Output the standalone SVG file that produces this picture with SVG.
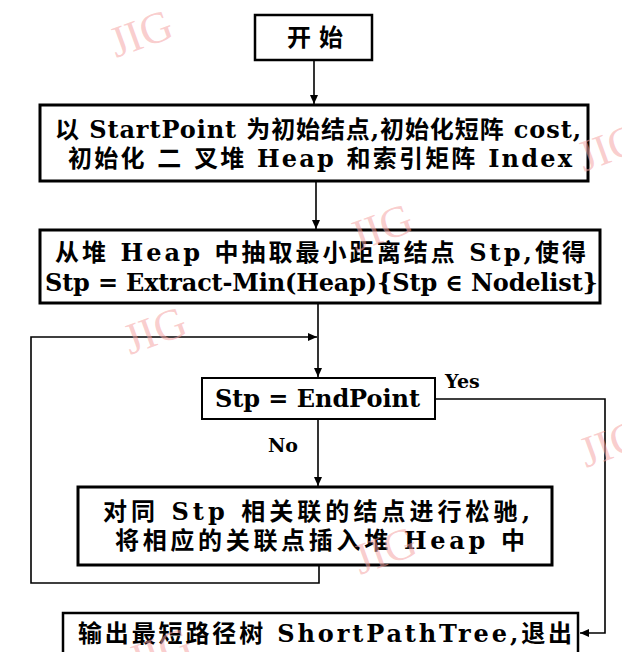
<svg xmlns="http://www.w3.org/2000/svg" width="622" height="652" viewBox="0 0 622 652">
<style>
.box{fill:none;stroke:#000;stroke-width:3}
.mid{fill:none;stroke:#000;stroke-width:2.5}
.thin{fill:none;stroke:#000;stroke-width:2}
.t{font-family:"DejaVu Serif","Noto Sans CJK SC",serif;font-size:24px;font-weight:bold;fill:#000}
.lbl{font-family:"DejaVu Serif",serif;font-size:19px;font-weight:bold;fill:#000}
.wm{font-family:"Liberation Serif",serif;font-size:44px;fill:#f5a3a3;fill-opacity:0.55}
.c{fill:none;stroke:#000;stroke-width:1.6}
</style>
<defs>
<marker id="ah" markerWidth="10" markerHeight="10" refX="9" refY="4" orient="auto" markerUnits="userSpaceOnUse">
<path d="M0,0 L9,4 L0,8 Z" fill="#000"/>
</marker>
</defs>
<rect width="622" height="652" fill="#fff"/>
<g id="connectors">
<line class="c" x1="314" y1="59" x2="314" y2="104" marker-end="url(#ah)"/>
<line class="c" x1="316" y1="181" x2="316" y2="229" marker-end="url(#ah)"/>
<line class="c" x1="318" y1="303" x2="318" y2="377" marker-end="url(#ah)"/>
<polyline class="c" points="319,566 319,583 31,583 31,337 317,337" marker-end="url(#ah)"/>
<line class="c" x1="318" y1="419" x2="318" y2="486" marker-end="url(#ah)"/>
<polyline class="c" points="435,399 605,399 605,633 580,633" marker-end="url(#ah)"/>
<text class="lbl" x="445" y="388">Yes</text>
<text class="lbl" x="268" y="452">No</text>
</g>
<g id="start">
<rect class="mid" x="255" y="15" width="117" height="45"/>
<text class="t" x="287" y="46" textLength="56" lengthAdjust="spacing">开始</text>
</g>
<g id="init">
<rect class="box" x="40" y="105" width="548" height="76"/>
<text class="t" x="55" y="138" textLength="526" lengthAdjust="spacing">以 StartPoint 为初始结点,初始化短阵 cost,</text>
<text class="t" x="68" y="167" textLength="504" lengthAdjust="spacing">初始化 二 叉堆 Heap 和索引矩阵 Index</text>
</g>
<g id="extract">
<rect class="box" x="40" y="230" width="560" height="73"/>
<text class="t" x="55" y="261" textLength="531" lengthAdjust="spacing">从堆 Heap 中抽取最小距离结点 Stp,使得</text>
<text class="t" x="45" y="291" textLength="553" lengthAdjust="spacing">Stp = Extract-Min(Heap){Stp ∈ Nodelist}</text>
</g>
<g id="check">
<rect class="thin" x="202" y="378" width="233" height="41"/>
<text class="t" x="215" y="407" textLength="205" lengthAdjust="spacing">Stp = EndPoint</text>
</g>
<g id="relax">
<rect class="box" x="78" y="487" width="474" height="78"/>
<text class="t" x="103" y="520" textLength="427" lengthAdjust="spacing">对同 Stp 相关联的结点进行松驰,</text>
<text class="t" x="115" y="549" textLength="410" lengthAdjust="spacing">将相应的关联点插入堆 Heap 中</text>
</g>
<g id="output">
<rect class="mid" x="63" y="613" width="515" height="52"/>
<text class="t" x="78" y="642" textLength="494" lengthAdjust="spacing">输出最短路径树 ShortPathTree,退出</text>
</g>
<g id="watermarks">
<text class="wm" transform="translate(116,58) rotate(-20)">JIG</text>
<text class="wm" transform="translate(356,252) rotate(-20)">JIG</text>
<text class="wm" transform="translate(130,355) rotate(-20)">JIG</text>
<text class="wm" transform="translate(584,172) rotate(-20)">JIG</text>
<text class="wm" transform="translate(586,468) rotate(-20)">JIG</text>
<text class="wm" transform="translate(360,575) rotate(-20)">JIG</text>
<text class="wm" transform="translate(135,676) rotate(-20)">JIG</text>
</g>
</svg>
